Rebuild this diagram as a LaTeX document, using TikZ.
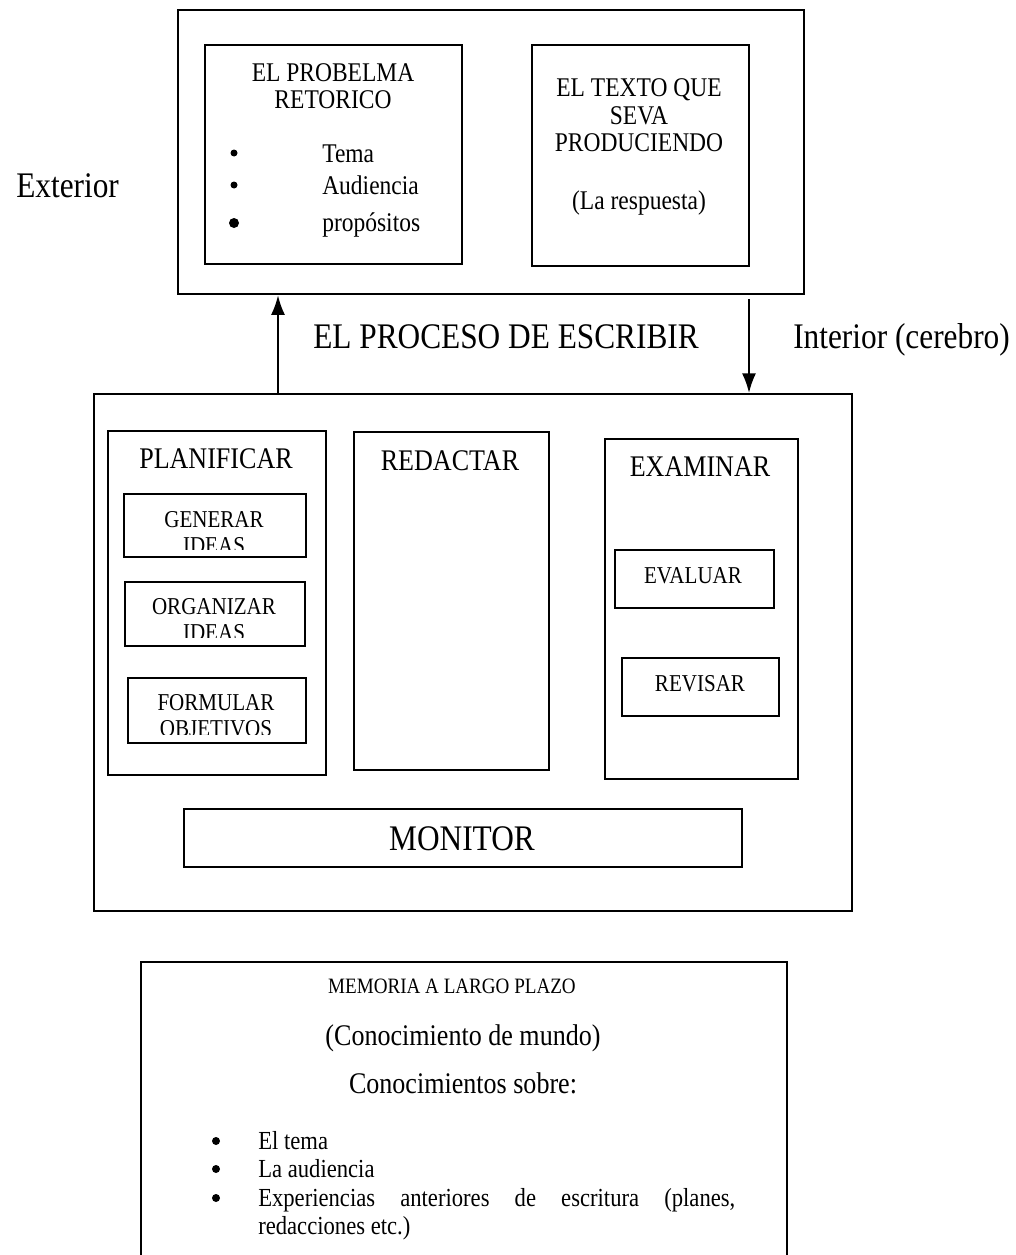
\documentclass[tikz,border=0pt]{standalone}
\usepackage{fontspec}
\setmainfont{Liberation Serif}[FakeStretch=0.87]
\usetikzlibrary{arrows.meta}
\newcommand*\ptsize[1]{\fontsize{#1}{#1}\selectfont}

\tikzset{
  box/.style={draw, line width=1.6pt, inner sep=0pt, anchor=north west},
  wd/.style={minimum width=#1*0.025cm},
  ht/.style={minimum height=#1*0.025cm},
  txt/.style={inner sep=0pt, anchor=base},
  big/.style={txt, font=\ptsize{25.6}},
  mid/.style={txt, font=\ptsize{21.3}},
  small/.style={txt, font=\ptsize{19.2}},
  tiny/.style={txt, font=\ptsize{17.2}},
  item/.style={txt, anchor=base west, font=\ptsize{18.5}},
  dot/.style={circle, fill, inner sep=0pt, minimum size=#1*0.025cm},
  arr/.style={line width=1.4pt, -{Latex[length=14pt,width=10pt]}}
}

\begin{document}
\begin{tikzpicture}[x=0.025cm, y=-0.025cm]
\clip (0,0) rectangle (1016,1255);

% exterior
\node[box, wd=626, ht=284] (top) at (177,9) {};
\node[box, wd=257, ht=219] (prob) at (204,44) {};
\node[small] (prob1) at (333,82) {EL PROBELMA};
\node[small] (prob2) at (333,109) {RETORICO};
\node[dot=7] (d1) at (234,153) {};
\node[dot=7] (d2) at (234,185) {};
\node[dot=10] (d3) at (234,223) {};
\node[small, anchor=base west] (tema) at (322,162) {Tema};
\node[small, anchor=base west] (aud) at (322,194) {Audiencia};
\node[small, anchor=base west] (prop) at (322,231) {propósitos};

\node[box, wd=217, ht=221] (texto) at (531,44) {};
\node[small] (tx1) at (639,96) {EL TEXTO QUE};
\node[small] (tx2) at (639,124) {SEVA};
\node[small] (tx3) at (639,151) {PRODUCIENDO};
\node[small] (tx4) at (639,209) {(La respuesta)};

\node[big, anchor=base west] (ext) at (16,197) {Exterior};

% proceso
\node[box, wd=758, ht=517] (proc) at (93,393) {};
\node[big] (proctit) at (506,348) {EL PROCESO DE ESCRIBIR};
\node[big, anchor=base west] (int) at (793,348) {Interior (cerebro)};

\draw[arr] (278,0 |- proc.north) -- (278,0 |- top.south);
\draw[arr] (749,0 |- top.south) ++(0,4) -- (749,0 |- proc.north);

% planificar
\node[box, wd=218, ht=344] (plan) at (107,430) {};
\node[mid] (plantit) at (216,468) {PLANIFICAR};

\node[box, wd=182, ht=63] (gen) at (123,493) {};
\node[box, wd=180, ht=64] (org) at (124,581) {};
\node[box, wd=178, ht=65] (form) at (127,677) {};
\begin{scope}
\clip (123,493) rectangle (305,549);
\node[tiny] (gen1) at (214,527) {GENERAR};
\node[tiny] (gen2) at (214,553) {IDEAS};
\end{scope}
\begin{scope}
\clip (124,581) rectangle (304,637);
\node[tiny] (org1) at (214,614) {ORGANIZAR};
\node[tiny] (org2) at (214,640) {IDEAS};
\end{scope}
\begin{scope}
\clip (127,677) rectangle (305,734);
\node[tiny] (form1) at (216,710) {FORMULAR};
\node[tiny] (form2) at (216,736) {OBJETIVOS};
\end{scope}

% redactar
\node[box, wd=195, ht=338] (red) at (353,431) {};
\node[mid] (redtit) at (450,470) {REDACTAR};

% examinar
\node[box, wd=193, ht=340] (exam) at (604,438) {};
\node[mid] (examtit) at (700,476) {EXAMINAR};
\node[box, wd=159, ht=58] (eval) at (614,549) {};
\node[tiny] (evaltxt) at (693,583) {EVALUAR};
\node[box, wd=157, ht=58] (rev) at (621,657) {};
\node[tiny] (revtxt) at (700,691) {REVISAR};

% monitor
\node[box, wd=558, ht=58] (mon) at (183,808) {};
\node[big] (montxt) at (462,850) {MONITOR};

% memoria
\node[box, wd=646, ht=340] (mem) at (140,961) {};
\node[txt, font=\ptsize{15.6}] (mem1) at (452,993) {MEMORIA A LARGO PLAZO};
\node[mid] (mem2) at (463,1045) {(Conocimiento de mundo)};
\node[mid] (mem3) at (463,1093) {Conocimientos sobre:};
\node[dot=8] (e1) at (216,1141) {};
\node[dot=8] (e2) at (216,1169) {};
\node[dot=8] (e3) at (216,1198) {};
\node[item] (it1) at (258,1149) {El tema};
\node[item] (it2) at (258,1177) {La audiencia};
\node[item] (it3) at (258,1206) {\hbox to 477\dimexpr 0.025cm\relax{Experiencias\hfill anteriores\hfill de\hfill escritura\hfill (planes,}};
\node[item] (it4) at (258,1234) {redacciones etc.)};
\end{tikzpicture}
\end{document}
